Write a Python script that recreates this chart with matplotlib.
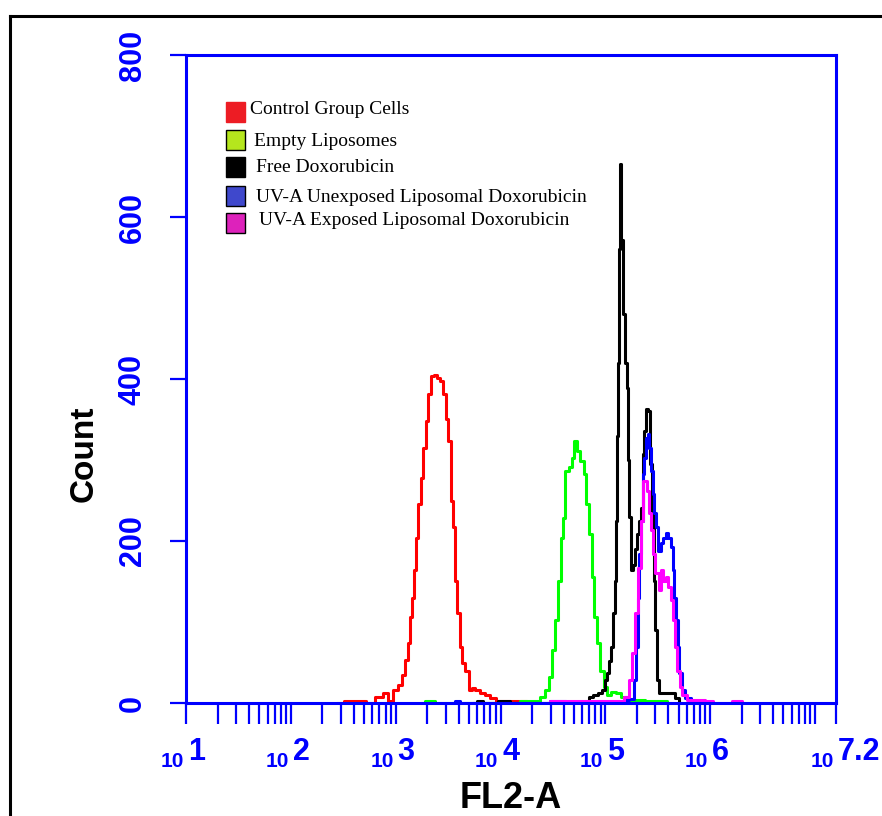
import numpy as np
import matplotlib
matplotlib.use("Agg")
import matplotlib.pyplot as plt
from matplotlib.lines import Line2D
from matplotlib.patches import Rectangle
from matplotlib.ticker import LogLocator, NullFormatter

W, H = 882, 816

# FL2-A positions are given in decades (log10 of FL2-A), counts per bin
red_dec = [2.45, 2.565, 2.62, 2.679, 2.75, 2.851, 2.899, 2.947, 2.994, 3.042, 3.071, 3.109,
           3.128, 3.147, 3.166, 3.185, 3.204, 3.223, 3.252, 3.271, 3.300, 3.319, 3.347,
           3.376, 3.405, 3.443, 3.462, 3.490, 3.510, 3.538, 3.557, 3.576, 3.595, 3.624,
           3.643, 3.681, 3.710, 3.739, 3.777, 3.824, 3.872, 3.920, 3.996, 4.092, 4.206, 4.30]
red_cnt = [0, 3, 3, 3, 0, 8, 12, 3, 16, 22, 34, 53, 74, 106, 130, 164, 204, 246, 278, 315,
           348, 381, 404, 405, 401, 397, 381, 351, 324, 250, 217, 151, 111, 69, 50, 40, 16,
           18, 16, 12, 10, 6, 3, 3, 3, 0]

green_dec = [3.25, 3.300, 3.357, 3.40, 4.15, 4.216, 4.349, 4.406, 4.445, 4.473, 4.502, 4.540,
             4.559, 4.588, 4.597, 4.636, 4.664, 4.693, 4.712, 4.740, 4.779, 4.807, 4.826,
             4.855, 4.884, 4.903, 4.931, 4.969, 4.998, 5.027, 5.074, 5.122, 5.170, 5.237,
             5.332, 5.427, 5.552, 5.62]
green_cnt = [0, 3, 3, 0, 0, 3, 3, 7, 16, 32, 65, 102, 151, 204, 229, 287, 291, 303, 324, 311,
             299, 283, 246, 209, 155, 106, 74, 40, 20, 10, 14, 12, 7, 3, 4, 3, 3, 0]

black_dec = [3.75, 3.80, 3.86, 4.06, 4.12, 4.83, 4.855, 4.912, 4.950, 4.979, 5.008, 5.027,
             5.046, 5.065, 5.084, 5.094, 5.103, 5.113, 5.122, 5.132, 5.141, 5.160, 5.179,
             5.198, 5.208, 5.218, 5.237, 5.256, 5.275, 5.294, 5.313, 5.332, 5.351, 5.361,
             5.380, 5.399, 5.418, 5.437, 5.456, 5.466, 5.485, 5.504, 5.523, 5.590, 5.647,
             5.685, 5.714]
black_cnt = [0, 3, 0, 3, 0, 0, 8, 10, 12, 16, 28, 37, 52, 69, 111, 151, 225, 330, 420, 560,
             665, 572, 480, 420, 389, 300, 230, 164, 170, 190, 209, 225, 241, 307, 336, 363,
             360, 295, 234, 151, 90, 28, 12, 12, 12, 6, 0]

blue_dec = [3.55, 3.59, 3.64, 4.45, 4.50, 4.59, 4.65, 5.15, 5.208, 5.237, 5.265, 5.284, 5.303,
            5.313, 5.332, 5.351, 5.361, 5.380, 5.399, 5.408, 5.427, 5.447, 5.456, 5.475,
            5.494, 5.504, 5.523, 5.542, 5.561, 5.590, 5.609, 5.637, 5.647, 5.666, 5.685,
            5.695, 5.714, 5.742, 5.781, 5.85]
blue_cnt = [0, 3, 0, 0, 3, 3, 0, 0, 4, 5, 5, 28, 69, 130, 184, 225, 283, 303, 327, 332, 315,
            287, 258, 234, 217, 188, 188, 197, 204, 210, 204, 192, 164, 130, 102, 69, 37, 16,
            6, 0]

mag_dec = [4.45, 4.50, 4.60, 4.70, 4.80, 4.90, 5.00, 5.10, 5.15, 5.208, 5.237, 5.265, 5.303,
           5.323, 5.351, 5.370, 5.389, 5.408, 5.427, 5.447, 5.456, 5.494, 5.523, 5.542,
           5.561, 5.590, 5.609, 5.637, 5.647, 5.676, 5.695, 5.723, 5.742, 5.809, 5.905,
           6.000, 6.05, 6.20, 6.219, 6.286, 6.32]
mag_cnt = [0, 3, 3, 3, 3, 3, 3, 3, 3, 7, 28, 62, 111, 167, 225, 274, 274, 262, 234, 213, 184,
           160, 139, 164, 151, 155, 143, 127, 102, 69, 40, 20, 10, 4, 4, 3, 0, 0, 3, 3, 0]

labels = ["Control Group Cells", "Empty Liposomes", "Free Doxorubicin",
          "UV-A Unexposed Liposomal Doxorubicin", "UV-A Exposed Liposomal Doxorubicin"]
line_colors = ["#FF0000", "#00FF00", "#000000", "#0000FF", "#FF00FF"]
box_colors = ["#ED1C24", "#B5E61D", "#000000", "#3F48CC", "#DD22BB"]

y_ticks = [0, 200, 400, 600, 800]
x_major_dec = [1, 2, 3, 4, 5, 6, 7, 7.2]
x_label_dec = [1, 2, 3, 4, 5, 6, 7.2]
x_label_exp = ["1", "2", "3", "4", "5", "6", "7.2"]

AX_BLUE = "#0000FF"
SANS = "Liberation Sans"
SERIF = "Liberation Serif"


def fx(x):
    return x / W


def fy(y):
    return 1 - y / H


fig = plt.figure(figsize=(W / 100, H / 100), dpi=100)
ax = fig.add_axes([fx(186), fy(703), (836 - 186) / W, (703 - 55) / H])

series = [(red_dec, red_cnt), (green_dec, green_cnt), (black_dec, black_cnt),
          (blue_dec, blue_cnt), (mag_dec, mag_cnt)]
for (dec, cnt), c in zip(series, line_colors):
    ax.plot(10 ** np.array(dec), cnt, drawstyle="steps-mid", color=c, lw=2.2, zorder=3)

ax.set_xscale("log")
ax.set_xlim(10, 10 ** 7.2)
ax.set_ylim(0, 800)

for s in ax.spines.values():
    s.set_color(AX_BLUE)
    s.set_linewidth(2.2)
    s.set_zorder(5)

ax.set_xticks([10 ** d for d in x_major_dec])
ax.xaxis.set_minor_locator(LogLocator(base=10, subs=np.arange(2, 10), numticks=20))
ax.xaxis.set_major_formatter(NullFormatter())
ax.xaxis.set_minor_formatter(NullFormatter())
ax.tick_params(axis="x", which="both", direction="out", length=15, width=1.6,
               color=AX_BLUE, labelbottom=False)

ax.set_yticks(y_ticks)
ax.set_yticklabels([str(v) for v in y_ticks], rotation=90, va="center",
                   fontsize=22, fontweight="bold", color=AX_BLUE, family=SANS)
ax.tick_params(axis="y", direction="out", length=11.5, width=1.6, color=AX_BLUE, pad=16)

# x tick labels: small "10" followed by a large exponent
for d, e in zip(x_label_dec, x_label_exp):
    ax.annotate("10", xy=(10 ** d, 0), xycoords=("data", "axes fraction"),
                xytext=(-1.5, -46), textcoords="offset points", ha="right", va="baseline",
                fontsize=15, fontweight="bold", color=AX_BLUE, family=SANS,
                annotation_clip=False)
    ax.annotate(e, xy=(10 ** d, 0), xycoords=("data", "axes fraction"),
                xytext=(1.5, -41), textcoords="offset points", ha="left", va="baseline",
                fontsize=22, fontweight="bold", color=AX_BLUE, family=SANS,
                annotation_clip=False)

fig.text(fx(511), fy(808), "FL2-A", ha="center", va="baseline", fontsize=26,
         fontweight="bold", family=SANS)
fig.text(fx(84), fy(454), "Count", ha="center", va="center", rotation=90, fontsize=24,
         fontweight="bold", family=SANS)

# legend drawn as boxes and text
box_y = [112, 140, 167, 196, 223]
text_x = [250, 254, 256, 256, 259]
text_y = [110, 141, 167, 198, 221]
for i, lab in enumerate(labels):
    ec = box_colors[i] if i == 0 else "black"
    fig.add_artist(Rectangle((fx(226), fy(box_y[i] + 9.5)), 19 / W, 19 / H,
                             transform=fig.transFigure, facecolor=box_colors[i],
                             edgecolor=ec, lw=1.0))
    fig.text(fx(text_x[i]), fy(text_y[i]), lab, ha="left", va="center", fontsize=14,
             family=SERIF, color="black")

# frame around the figure (only top and left edges visible)
fig.add_artist(Line2D([fx(10), fx(10)], [0, fy(15.5)], transform=fig.transFigure,
                      color="black", lw=2.2))
fig.add_artist(Line2D([fx(10), 1], [fy(15.5), fy(15.5)], transform=fig.transFigure,
                      color="black", lw=2.2))

fig.savefig("out.png", dpi=100)
